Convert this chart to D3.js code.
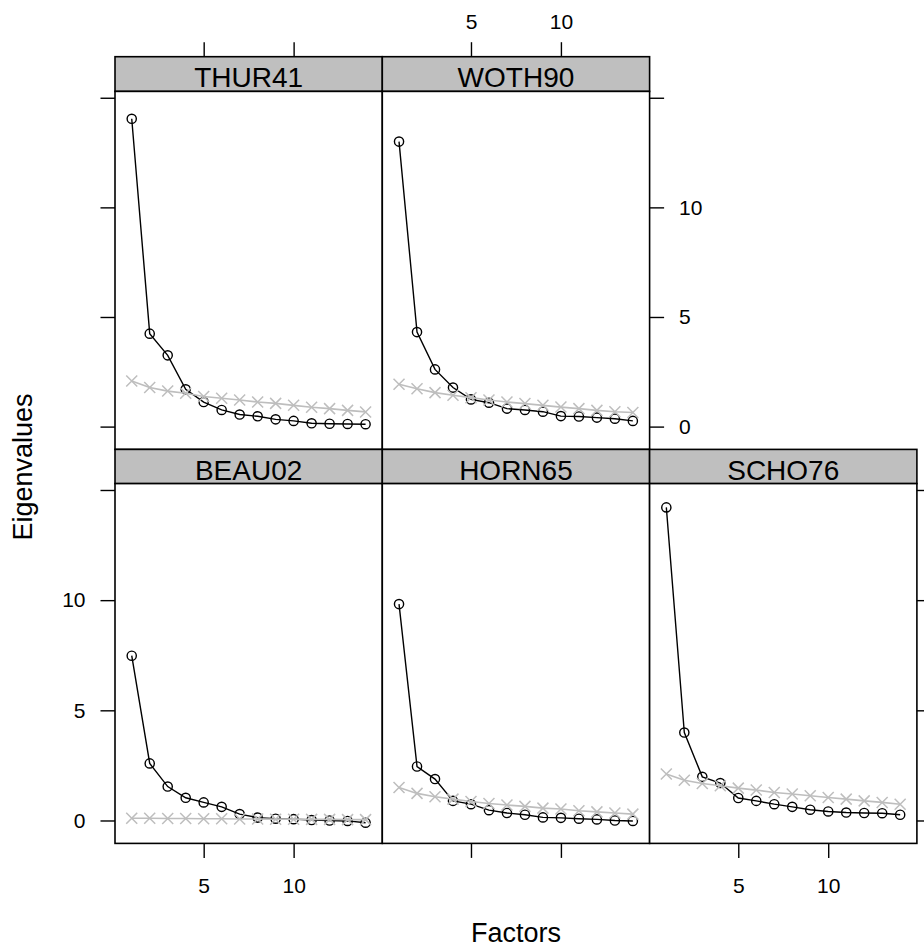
<!DOCTYPE html>
<html>
<head>
<meta charset="utf-8">
<script src="https://cdn.jsdelivr.net/npm/d3@7"></script>
<style>
  html, body { margin: 0; padding: 0; background: #ffffff; }
  svg { display: block; font-family: "Liberation Sans", Arial, Helvetica, sans-serif; }
</style>
</head>
<body>
<svg id="chart" width="924" height="951"></svg>
<script>
// ---------------- data ----------------
const factors = [1, 2, 3, 4, 5, 6, 7, 8, 9, 10, 11, 12, 13, 14];
const panelNames = ["THUR41", "WOTH90", "BEAU02", "HORN65", "SCHO76"];

const THUR41_eigen    = [14.04, 4.24, 3.25, 1.70, 1.12, 0.76, 0.55, 0.47, 0.33, 0.26, 0.15, 0.13, 0.12, 0.11];
const THUR41_parallel = [2.08, 1.78, 1.62, 1.52, 1.37, 1.29, 1.21, 1.12, 1.06, 0.97, 0.88, 0.82, 0.74, 0.67];

const WOTH90_eigen    = [13.00, 4.31, 2.61, 1.78, 1.24, 1.09, 0.82, 0.76, 0.68, 0.48, 0.46, 0.41, 0.36, 0.26];
const WOTH90_parallel = [1.93, 1.73, 1.55, 1.43, 1.32, 1.21, 1.12, 1.05, 0.97, 0.89, 0.82, 0.74, 0.68, 0.64];

const BEAU02_eigen    = [7.48, 2.59, 1.54, 1.03, 0.82, 0.62, 0.29, 0.13, 0.08, 0.06, 0.02, 0.00, -0.02, -0.10];
const BEAU02_parallel = [0.10, 0.10, 0.09, 0.09, 0.08, 0.08, 0.07, 0.07, 0.06, 0.06, 0.05, 0.05, 0.04, 0.04];

const HORN65_eigen    = [9.82, 2.45, 1.88, 0.89, 0.74, 0.47, 0.34, 0.26, 0.14, 0.12, 0.08, 0.05, 0.00, -0.02];
const HORN65_parallel = [1.50, 1.23, 1.08, 0.97, 0.86, 0.77, 0.70, 0.64, 0.56, 0.52, 0.44, 0.39, 0.34, 0.29];

const SCHO76_eigen    = [14.21, 3.99, 1.98, 1.70, 1.02, 0.89, 0.74, 0.62, 0.49, 0.41, 0.36, 0.34, 0.33, 0.26];
const SCHO76_parallel = [2.11, 1.83, 1.68, 1.58, 1.47, 1.38, 1.27, 1.20, 1.12, 1.04, 0.97, 0.89, 0.82, 0.74];

const xTicks = [5, 10];
const yTicks = [0, 5, 10, 15];
const yTickLabels = ["0", "5", "10", ""];
const xLabel = "Factors";
const yLabel = "Eigenvalues";

const eigenByPanel = [THUR41_eigen, WOTH90_eigen, BEAU02_eigen, HORN65_eigen, SCHO76_eigen];
const parallelByPanel = [THUR41_parallel, WOTH90_parallel, BEAU02_parallel, HORN65_parallel, SCHO76_parallel];

// ---------------- layout ----------------
const svg = d3.select("#chart");
const colLeft = [115, 382.3, 649.6];
const colW = 267.3;
const rows = [
  { stripTop: 56.7, panelTop: 91.4, panelBottom: 449.4 },
  { stripTop: 449.4, panelTop: 483.6, panelBottom: 843.4 }
];
const xDomain = [0.07, 14.93];
const yDomain = [-1.04, 15.29];
const tickLen = 14.5;
const tickFont = 21;
const stripFont = 28;
const titleFont = 27;
const grey = "#bebebe";
const stripFill = "#bfbfbf";

// panel placement and which axes each panel carries
const layout = [
  { col: 0, row: 0, left: "ticks", top: "ticks" },
  { col: 1, row: 0, top: "labels", right: "labels" },
  { col: 0, row: 1, left: "labels", bottom: "labels" },
  { col: 1, row: 1, bottom: "ticks" },
  { col: 2, row: 1, bottom: "labels", right: "ticks" }
];

function styleAxis(g, showLabels) {
  g.select(".domain").remove();
  g.selectAll(".tick line").attr("stroke", "#000").attr("stroke-width", 1.4);
  g.selectAll(".tick text")
    .attr("fill", "#000")
    .style("font-size", tickFont + "px")
    .style("font-family", '"Liberation Sans", Arial, sans-serif')
    .style("display", showLabels ? null : "none");
}

layout.forEach((L, i) => {
  const r = rows[L.row];
  const x0 = colLeft[L.col];
  const h = r.panelBottom - r.panelTop;
  const x = d3.scaleLinear().domain(xDomain).range([0, colW]);
  const y = d3.scaleLinear().domain(yDomain).range([h, 0]);

  // strip
  const sg = svg.append("g").attr("transform", `translate(${x0},${r.stripTop})`);
  sg.append("rect")
    .attr("width", colW).attr("height", r.panelTop - r.stripTop)
    .attr("fill", stripFill).attr("stroke", "#000").attr("stroke-width", 1.6);
  sg.append("text")
    .attr("x", colW / 2).attr("y", r.panelTop - r.stripTop - 4)
    .attr("text-anchor", "middle")
    .style("font-size", stripFont + "px")
    .attr("fill", "#000")
    .text(panelNames[i]);

  // panel
  const pg = svg.append("g").attr("transform", `translate(${x0},${r.panelTop})`);
  pg.append("rect")
    .attr("width", colW).attr("height", h)
    .attr("fill", "#fff").attr("stroke", "#000").attr("stroke-width", 1.6);

  const eig = eigenByPanel[i];
  const par = parallelByPanel[i];
  const line = d3.line().x((d, k) => x(factors[k])).y(d => y(d));

  // observed eigenvalues: black line + open circles
  pg.append("path").datum(eig).attr("d", line)
    .attr("fill", "none").attr("stroke", "#000").attr("stroke-width", 1.4);
  pg.selectAll("circle.eig").data(eig).enter().append("circle")
    .attr("class", "eig")
    .attr("cx", (d, k) => x(factors[k])).attr("cy", d => y(d))
    .attr("r", 4.6)
    .attr("fill", "none").attr("stroke", "#000").attr("stroke-width", 1.4);

  // parallel analysis: grey line + crosses
  pg.append("path").datum(par).attr("d", line)
    .attr("fill", "none").attr("stroke", grey).attr("stroke-width", 1.6);
  pg.selectAll("path.cross").data(par).enter().append("path")
    .attr("class", "cross")
    .attr("transform", (d, k) => `translate(${x(factors[k])},${y(d)})`)
    .attr("d", "M-5.5,-5.5L5.5,5.5M-5.5,5.5L5.5,-5.5")
    .attr("fill", "none").attr("stroke", grey).attr("stroke-width", 1.5);

  // axes
  if (L.left) {
    const g = svg.append("g").attr("transform", `translate(${x0},${r.panelTop})`)
      .call(d3.axisLeft(y).tickValues(yTicks).tickFormat((d, k) => yTickLabels[k])
        .tickSizeInner(tickLen).tickSizeOuter(0).tickPadding(15));
    styleAxis(g, L.left === "labels");
  }
  if (L.right) {
    const g = svg.append("g").attr("transform", `translate(${x0 + colW},${r.panelTop})`)
      .call(d3.axisRight(y).tickValues(yTicks).tickFormat((d, k) => yTickLabels[k])
        .tickSizeInner(tickLen).tickSizeOuter(0).tickPadding(15));
    styleAxis(g, L.right === "labels");
    g.selectAll(".tick text").attr("text-anchor", "start");
  }
  if (L.top) {
    const g = svg.append("g").attr("transform", `translate(${x0},${r.stripTop})`)
      .call(d3.axisTop(x).tickValues(xTicks).tickFormat(d3.format("d"))
        .tickSizeInner(tickLen).tickSizeOuter(0).tickPadding(13));
    styleAxis(g, L.top === "labels");
  }
  if (L.bottom) {
    const g = svg.append("g").attr("transform", `translate(${x0},${r.panelBottom})`)
      .call(d3.axisBottom(x).tickValues(xTicks).tickFormat(d3.format("d"))
        .tickSizeInner(tickLen).tickSizeOuter(0).tickPadding(20));
    styleAxis(g, L.bottom === "labels");
  }
});

// axis titles
svg.append("text")
  .attr("x", 516).attr("y", 942)
  .attr("text-anchor", "middle")
  .style("font-size", titleFont + "px")
  .attr("fill", "#000")
  .text(xLabel);

svg.append("text")
  .attr("transform", "translate(32,467) rotate(-90)")
  .attr("text-anchor", "middle")
  .style("font-size", titleFont + "px")
  .attr("fill", "#000")
  .text(yLabel);
</script>
</body>
</html>
